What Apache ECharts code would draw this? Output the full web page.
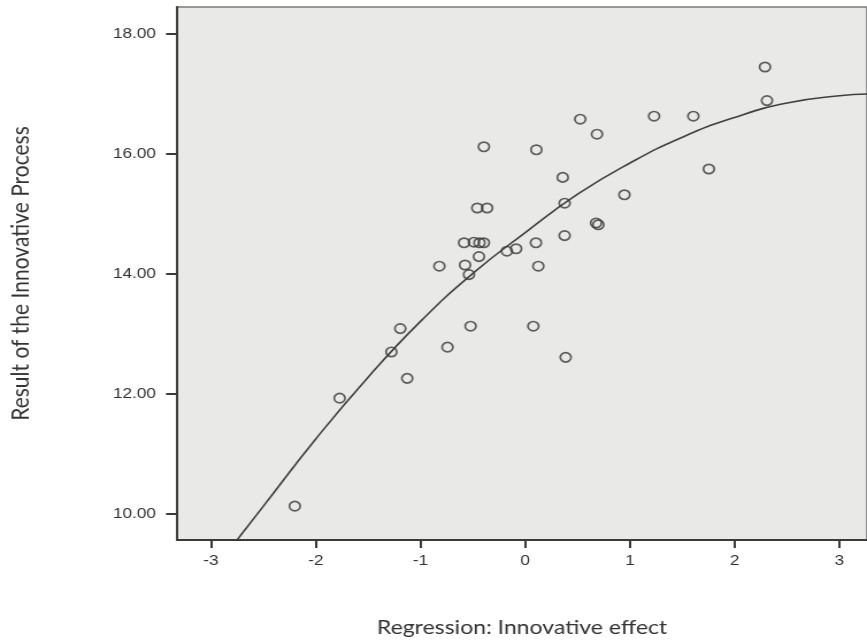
<!DOCTYPE html>
<html>
<head>
<meta charset="utf-8">
<script src="https://cdn.jsdelivr.net/npm/echarts@6/dist/echarts.min.js"></script>
<style>
html,body{margin:0;padding:0;background:#fff;overflow:hidden;}
#wrap{width:867px;height:643px;overflow:hidden;position:relative;}
#chart{width:754px;height:643px;transform:scaleX(1.14987);transform-origin:0 0;position:absolute;left:0;top:0;}
</style>
</head>
<body>
<div id="wrap"><div id="chart"></div></div>
<script>
// Observed points: Regression: Innovative effect (x) vs Result of the Innovative Process (y)
const pointX = [-0.395, -0.458, -0.364, -0.584, -0.49, -0.437, -0.395, -0.442, -0.82, -0.575,
                -0.537, 2.289, 2.308, 0.525, 1.23, 1.605, 0.685, 0.106, 0.358, 1.753,
                0.376, 0.947, 0.676, 0.698, 0.376, 0.102, -0.175, -0.087, 0.125, -1.193,
                -0.522, -1.278, -0.742, -1.127, -1.772, -2.2, 0.077, 0.386];
const pointY = [16.11, 15.09, 15.09, 14.51, 14.52, 14.51, 14.51, 14.28, 14.12, 14.14,
                13.98, 17.44, 16.88, 16.57, 16.62, 16.62, 16.32, 16.06, 15.60, 15.74,
                15.17, 15.31, 14.84, 14.81, 14.63, 14.51, 14.37, 14.41, 14.12, 13.08,
                13.12, 12.69, 12.77, 12.25, 11.92, 10.12, 13.12, 12.60];
// Fitted curve
const curveX = [-2.75, -2.5, -2, -1.5, -1, -0.5, 0, 0.5, 1, 1.5, 2, 2.5, 3, 3.27];
const curveY = [9.56, 10.12, 11.24, 12.27, 13.2, 14.0, 14.68, 15.32, 15.84, 16.27, 16.6, 16.84, 16.96, 16.99];
// Tick labels
const xTicks = [-3, -2, -1, 0, 1, 2, 3];
const yTicks = [10, 12, 14, 16, 18];
const xTitle = 'Regression: Innovative effect';
const yTitle = 'Result of the Innovative Process';

const points = pointX.map((x, i) => [x, pointY[i]]);
const curve = curveX.map((x, i) => [x, curveY[i]]);

const chart = echarts.init(document.getElementById('chart'), null, {renderer: 'canvas', width: 754, height: 643});
chart.setOption({
  animation: false,
  backgroundColor: '#ffffff',
  grid: {
    left: 149.3, top: 7, right: -2, bottom: 102,
    show: true, backgroundColor: '#e9e9e8', borderColor: '#7a7a7a', borderWidth: 1.5
  },
  xAxis: {
    type: 'value', min: -3.324, max: 3.263,
    name: xTitle, nameLocation: 'middle', nameGap: 78,
    nameTextStyle: {fontFamily: 'Lato', fontSize: 20, color: '#333'},
    axisLine: {show: true, onZero: false, lineStyle: {color: '#3a3a3a', width: 2}},
    axisTick: {show: true, length: 8, lineStyle: {color: '#3a3a3a', width: 2}, customValues: xTicks},
    axisLabel: {customValues: xTicks, margin: 13, fontFamily: 'Liberation Sans', fontSize: 15, color: '#333',
      formatter: v => String(v)},
    splitLine: {show: false}
  },
  yAxis: {
    type: 'value', min: 9.556, max: 18.44,
    name: yTitle, nameLocation: 'middle', nameGap: 125, nameRotate: 90,
    nameTextStyle: {fontFamily: 'Lato', fontSize: 21, color: '#333'},
    axisLine: {show: true, onZero: false, lineStyle: {color: '#3a3a3a', width: 2}},
    axisTick: {show: true, length: 9.6, lineStyle: {color: '#3a3a3a', width: 2}, customValues: yTicks},
    axisLabel: {customValues: yTicks, margin: 18.3, fontFamily: 'Liberation Sans', fontSize: 15, color: '#333',
      formatter: v => v.toFixed(2)},
    splitLine: {show: false}
  },
  series: [
    {
      type: 'line', data: curve, smooth: true, showSymbol: false, symbol: 'none',
      lineStyle: {color: '#404040', width: 1.6}, clip: true, z: 2
    },
    {
      type: 'scatter', data: points, symbol: 'circle', symbolSize: [9.4, 9.4],
      itemStyle: {color: 'rgba(0,0,0,0)', borderColor: '#3a3a3a', borderWidth: 1.7}, z: 3
    }
  ]
});
</script>
</body>
</html>
